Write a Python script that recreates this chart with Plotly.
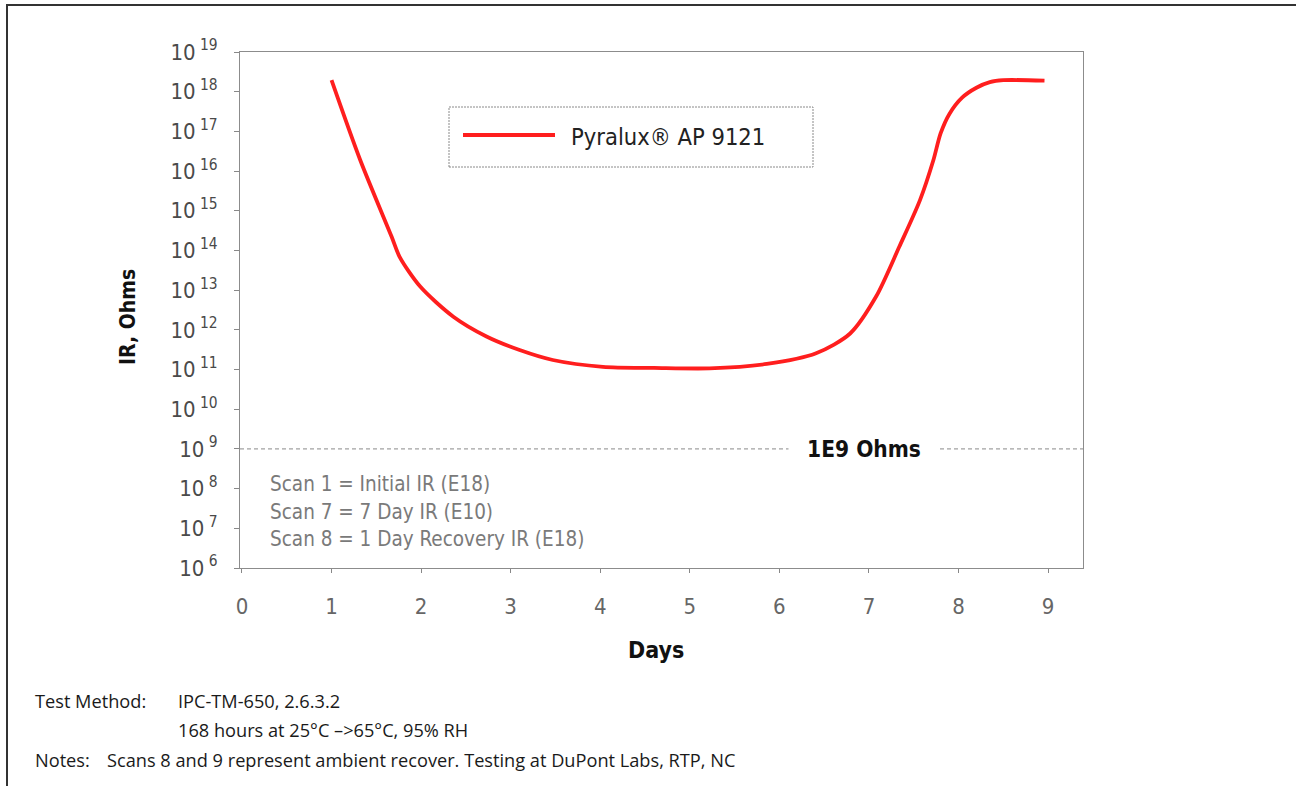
import plotly.graph_objects as go

# ---- data ----
days = [1.0, 1.32, 1.67, 1.76, 1.99, 2.36, 2.73, 3.10, 3.47, 4.03, 4.60, 5.22,
        5.86, 6.41, 6.79, 7.08, 7.34, 7.57, 7.72, 7.80, 7.90, 8.04, 8.20, 8.35, 8.50, 8.96]
ir_ohms = [1.95e18, 1.9e16, 2.24e14, 6.9e13, 1.23e13, 2.14e12, 6.8e11, 3.1e11,
           1.74e11, 1.17e11, 1.10e11, 1.07e11, 1.38e11, 2.57e11, 8.1e11, 6.9e12,
           1.26e14, 1.86e15, 1.9e16, 8.9e16, 2.8e17, 7.1e17, 1.26e18, 1.74e18,
           1.95e18, 1.9e18]
series_name = "Pyralux® AP 9121"
threshold = 1e9
threshold_label = "1E9 Ohms"
x_ticks = [0, 1, 2, 3, 4, 5, 6, 7, 8, 9]
y_exponents = list(range(6, 20))
y_tickvals = [10.0 ** e for e in y_exponents]
y_ticktext = ["10<sup> %d</sup>" % e for e in y_exponents]
scan_notes = ["Scan 1 = Initial IR (E18)",
              "Scan 7 = 7 Day IR (E10)",
              "Scan 8 = 1 Day Recovery IR (E18)"]

# ---- layout geometry (pixels) ----
W, H = 1296, 786
L, R, T, B = 240, 1083, 52, 568
pw, ph = R - L, B - T


def px(x):
    return (x - L) / pw


def py(y):
    return (B - y) / ph


COND = "DejaVu Sans Condensed, Liberation Sans Narrow, Arial Narrow, sans-serif"
BODY = "Open Sans, Liberation Sans, Arial, sans-serif"
RED = "#ff1e1e"

fig = go.Figure()
fig.add_trace(go.Scatter(
    x=days, y=ir_ohms, mode="lines", name=series_name,
    line=dict(color=RED, width=3.8, shape="spline", smoothing=0.8),
    showlegend=False, hoverinfo="x+y"))

ann = []
ann.append(dict(x=px(864), y=9, xref="paper", yref="y", text="<b>%s</b>" % threshold_label,
                xanchor="center", yanchor="middle",
                showarrow=False, bgcolor="white", width=148, height=24,
                font=dict(family=COND, size=22.5, color="#111")))
for i, t in enumerate(scan_notes):
    ann.append(dict(x=px(268), y=py(484 + 27.5 * i), xref="paper", yref="paper",
                    xanchor="left", yanchor="middle", text=t, showarrow=False,
                    font=dict(family=COND, size=20.5, color="#7a7a7a")))
# axis titles
ann.append(dict(x=px(656), y=py(650), xref="paper", yref="paper", text="<b>Days</b>",
                xanchor="center", yanchor="middle",
                showarrow=False, font=dict(family=COND, size=23, color="#111")))
ann.append(dict(x=px(128), y=py(317), xref="paper", yref="paper", text="<b>IR, Ohms</b>",
                xanchor="center", yanchor="middle",
                textangle=-90, showarrow=False, font=dict(family=COND, size=21, color="#111")))
# legend (manual)
ann.append(dict(x=px(569), y=py(137), xref="paper", yref="paper", xanchor="left",
                yanchor="middle", text=series_name, showarrow=False,
                font=dict(family=COND, size=23.5, color="#222")))
# footer texts
foot = [(33, 701, "Test Method:"), (176, 701, "IPC-TM-650, 2.6.3.2"),
        (176, 730, "168 hours at 25°C –>65°C, 95% RH"),
        (33, 760, "Notes:"),
        (105, 760, "Scans 8 and 9 represent ambient recover. Testing at DuPont Labs, RTP, NC")]
for x, y, t in foot:
    ann.append(dict(x=px(x), y=py(y), xref="paper", yref="paper", xanchor="left",
                    yanchor="middle", text=t, showarrow=False,
                    font=dict(family=BODY, size=18.2, color="#1a1a1a")))

shapes = [
    # 1E9 threshold line
    dict(type="line", xref="paper", yref="y", x0=0, x1=1, y0=threshold, y1=threshold,
         line=dict(color="#8a8a8a", width=1, dash="4px,3px"), layer="above"),
    # legend box
    dict(type="rect", xref="paper", yref="paper", x0=px(449), x1=px(813),
         y0=py(167), y1=py(107), line=dict(color="#8a8a8a", width=1, dash="2px,1px"),
         layer="above"),
    dict(type="line", xref="paper", yref="paper", x0=px(463), x1=px(555),
         y0=py(135), y1=py(135), line=dict(color=RED, width=4)),
    # outer frame (top and left)
    dict(type="line", xref="paper", yref="paper", x0=px(6), x1=px(W),
         y0=py(5), y1=py(5), line=dict(color="#333", width=2)),
    dict(type="line", xref="paper", yref="paper", x0=px(7), x1=px(7),
         y0=py(4), y1=py(H), line=dict(color="#333", width=2)),
]

fig.update_layout(
    width=W, height=H, margin=dict(l=L, r=W - R, t=T, b=H - B, autoexpand=False),
    paper_bgcolor="white", plot_bgcolor="white",
    annotations=ann, shapes=shapes,
    xaxis=dict(range=[-0.022, 9.39], tickvals=x_ticks, ticks="outside", ticklen=4,
               tickcolor="#888", showgrid=False, zeroline=False, showline=True,
               linecolor="#8c8c8c", linewidth=1, mirror=True, ticklabelstandoff=15,
               tickfont=dict(family=COND, size=22, color="#666")),
    yaxis=dict(type="log", range=[6, 19], tickvals=y_tickvals, ticktext=y_ticktext,
               ticks="outside", ticklen=5, tickcolor="#888", showgrid=False,
               zeroline=False, showline=True, linecolor="#8c8c8c", linewidth=1,
               mirror=True, ticklabelstandoff=12,
               tickfont=dict(family=COND, size=22, color="#4a4a4a")),
    showlegend=False,
)

fig.write_html("out.html", config={"displayModeBar": False},
               post_script="document.body.style.margin='0';document.body.style.overflow='hidden';")
